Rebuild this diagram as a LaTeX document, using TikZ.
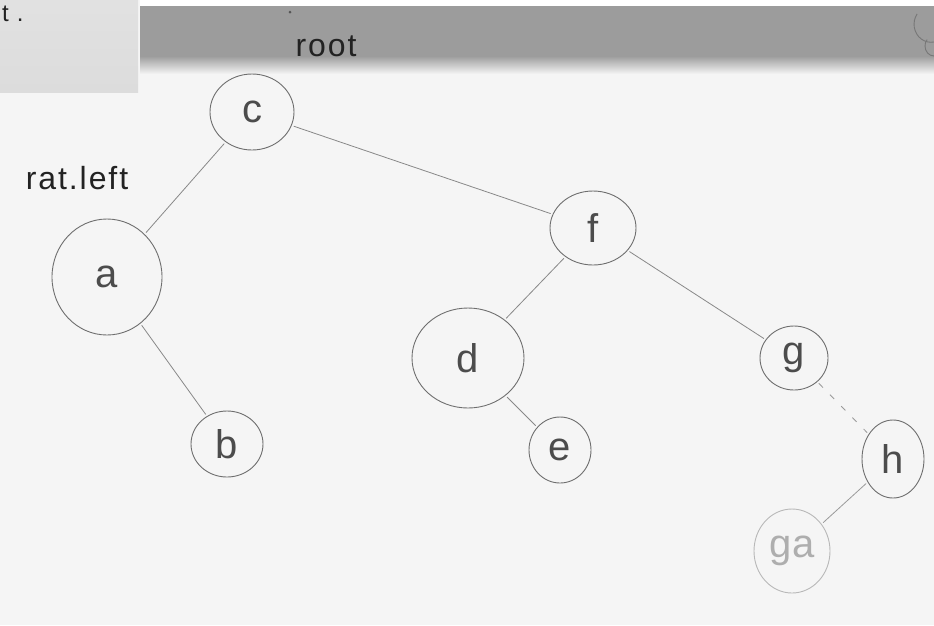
\documentclass[tikz,border=0pt]{standalone}
\usepackage{fontspec}
\setmainfont{Liberation Sans}
\usetikzlibrary{shapes.geometric}
\definecolor{board}{HTML}{F5F5F5}
\definecolor{band}{HTML}{9C9C9C}
\definecolor{card}{HTML}{DCDCDC}
\definecolor{ink}{HTML}{555555}
\definecolor{faint}{HTML}{9A9A9A}
\tikzset{
  treenode/.style={ellipse, draw=ink!85, line width=0.9pt, inner sep=0pt,
    text=ink!90!black, font=\fontsize{40}{40}\selectfont},
  faintnode/.style={treenode, draw=faint!70, text=faint!80},
  edge/.style={draw=ink!70, line width=0.8pt, shorten <=2pt, shorten >=2pt},
  note/.style={text=ink!40!black,
    font=\fontsize{32}{32}\selectfont\addfontfeature{LetterSpace=6}}
}
\begin{document}
\begin{tikzpicture}[x=1pt, y=-1pt]
  \useasboundingbox (0,0) rectangle (934,625);
  % whiteboard surface
  \fill[board] (0,0) rectangle (934,625);
  % shadowed strip along the top edge of the board
  \fill[white] (140,0) rectangle (934,6);
  \fill[band] (140,6) rectangle (934,56);
  \shade[top color=band, bottom color=board] (140,56) rectangle (934,74);
  % paper card in the corner
  \shade[top color=card!85, bottom color=card] (0,0) rectangle (138,92);
  \node[note, anchor=west, inner sep=1pt, font=\fontsize{24}{24}\selectfont] (cardtext) at (1,14) {t\,\,.};
  \fill[ink] (290,12) circle (1.5pt);
  % partial circle cut by the right edge
  \draw[ink!80, line width=0.9pt] (934,42) arc (80:215:17 and 18);
  \draw[ink!80, line width=0.9pt] (934,56) arc (90:220:9 and 10);

  % tree nodes
  \node[treenode, minimum width=84pt, minimum height=76pt] (c) at (252,112) {c};
  \node[treenode, minimum width=110pt, minimum height=116pt] (a) at (107,277) {a};
  \node[treenode, minimum width=72pt, minimum height=66pt] (b) at (227,444) {b};
  \node[treenode, minimum width=86pt, minimum height=74pt] (f) at (593,228) {f};
  \node[treenode, minimum width=112pt, minimum height=100pt] (d) at (468,358) {d};
  \node[treenode, minimum width=62pt, minimum height=66pt] (e) at (560,450) {e};
  \node[treenode, minimum width=68pt, minimum height=64pt] (g) at (794,358) {g};
  \node[treenode, minimum width=62pt, minimum height=78pt] (h) at (893,459) {h};
  \node[faintnode, minimum width=76pt, minimum height=84pt] (ga) at (792,551) {ga};

  % labels
  \node[note] (rootlabel) at (326,46) {root};
  \node[note] (leftlabel) at (77,178) {rat.left};

  % connectors
  \draw[edge] (c) -- (a);
  \draw[edge] (c) -- (f);
  \draw[edge] (a) -- (b);
  \draw[edge] (f) -- (d);
  \draw[edge] (f) -- (g);
  \draw[edge] (d) -- (e);
  \draw[edge, draw=faint, dash pattern=on 6pt off 10pt] (g) -- (h);
  \draw[edge, draw=faint] (h) -- (ga);
\end{tikzpicture}
\end{document}
